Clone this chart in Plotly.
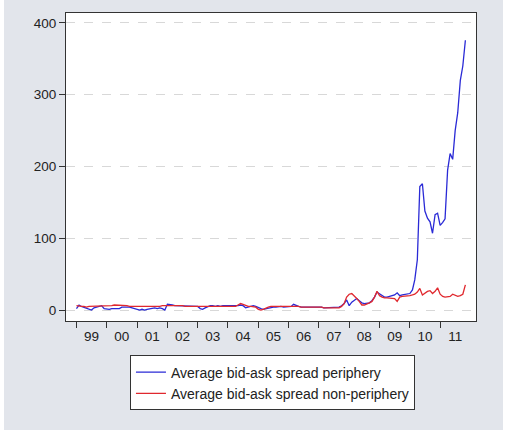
import pandas as pd
import plotly.graph_objects as go

dates = pd.date_range("1999-01-01", periods=155, freq="MS")

periphery = [
    2, 7, 5, 4, 3, 2, 0, 3, 4, 6, 6, 2,          # 1999
    1, 1, 2, 2, 1, 2, 4, 4, 5, 4, 3, 2,          # 2000
    1, 0, 1, 0, 1, 2, 3, 3, 2, 3, 2, 0,          # 2001
    8, 8, 7, 6, 6, 6, 6, 6, 5, 5, 6, 5,          # 2002
    5, 2, 1, 3, 5, 6, 6, 5, 6, 5, 6, 6,          # 2003
    6, 6, 5, 6, 6, 7, 6, 3, 4, 5, 6, 5,          # 2004
    4, 2, 1, 2, 3, 3, 4, 4, 5, 5, 4, 4,          # 2005
    4, 5, 8, 6, 5, 4, 4, 5, 4, 4, 4, 4,          # 2006
    4, 4, 3, 3, 3, 3, 3, 3, 4, 6, 9, 14,         # 2007
    6, 11, 14, 16, 13, 10, 9, 10, 10, 13, 18, 25,  # 2008
    23, 20, 18, 18, 19, 20, 21, 24, 20, 21, 22, 23,  # 2009
    23, 28, 42, 70, 172, 176, 138, 128, 123, 107, 133, 135,  # 2010
    118, 122, 127, 195, 218, 210, 250, 275, 320, 340, 376,  # 2011
]

non_periphery = [
    6, 5, 5, 5, 4, 5, 5, 5, 5, 6, 5, 5,          # 1999
    5, 5, 6, 7, 7, 7, 6, 6, 6, 5, 5, 5,          # 2000
    5, 4, 4, 4, 5, 5, 5, 5, 5, 5, 6, 6,          # 2001
    7, 6, 6, 6, 6, 6, 6, 5, 5, 5, 6, 6,          # 2002
    6, 6, 5, 5, 6, 6, 6, 6, 6, 6, 6, 6,          # 2003
    6, 6, 5, 5, 7, 9, 8, 6, 5, 5, 5, 4,          # 2004
    1, 0, 1, 3, 4, 5, 5, 5, 5, 5, 5, 5,          # 2005
    5, 5, 6, 5, 5, 4, 4, 4, 4, 4, 4, 5,          # 2006
    4, 4, 3, 3, 3, 2, 2, 3, 3, 5, 9, 18,         # 2007
    22, 23, 20, 16, 12, 7, 7, 8, 10, 12, 18, 26,  # 2008
    20, 18, 17, 17, 17, 17, 16, 12, 18, 19, 19, 19,  # 2009
    20, 21, 22, 25, 30, 21, 24, 26, 27, 23, 26, 31,  # 2010
    22, 19, 18, 18, 19, 22, 21, 19, 20, 22, 35,  # 2011
]

year_starts = pd.date_range("1999-01-01", "2011-01-01", freq="YS")
year_mids = [d + pd.Timedelta(days=182) for d in year_starts]
year_labels = ["99", "00", "01", "02", "03", "04", "05", "06", "07", "08", "09", "10", "11"]
y_ticks = [0, 100, 200, 300, 400]

x_range = ["1998-08-28", "2012-03-08"]

fig = go.Figure()
fig.add_trace(go.Scatter(x=dates, y=periphery, mode="lines",
                         name="Average bid-ask spread periphery",
                         line=dict(color="#2a2ad6", width=1.3)))
fig.add_trace(go.Scatter(x=dates, y=non_periphery, mode="lines",
                         name="Average bid-ask spread non-periphery",
                         line=dict(color="#e0282e", width=1.3)))

fig.update_layout(
    width=507, height=434,
    margin=dict(l=66, r=31, t=13, b=113),
    paper_bgcolor="#e2e5eb",
    plot_bgcolor="white",
    font=dict(family="Arial, Liberation Sans, sans-serif", size=13, color="#222"),
    xaxis=dict(
        type="date", range=x_range,
        tickmode="array", tickvals=year_mids, ticktext=year_labels,
        ticks="outside", ticklen=3, tickcolor="rgba(0,0,0,0)",
        tickfont=dict(size=13.5, color="#222"),
        minor=dict(tickmode="array", tickvals=year_starts, ticks="outside",
                   ticklen=6, tickcolor="#333", tickwidth=1, showgrid=False),
        showgrid=False, zeroline=False,
        showline=True, linecolor="#333", linewidth=1, mirror=True,
    ),
    yaxis=dict(
        range=[-15.3, 413.9],
        tickmode="array", tickvals=y_ticks,
        ticks="outside", ticklen=6, tickcolor="#333",
        showgrid=True, gridcolor="#d8d8d8", griddash="dash", gridwidth=1,
        zeroline=False,
        showline=True, linecolor="#333", linewidth=1, mirror=True,
        tickfont=dict(size=13.5, color="#222"),
    ),
    legend=dict(
        x=0.156, y=-0.112, xanchor="left", yanchor="top",
        bgcolor="white", bordercolor="#333", borderwidth=1,
        font=dict(size=14, color="#222"),
        tracegroupgap=0,
    ),
    showlegend=True,
    shapes=[
        dict(type="rect", xref="paper", yref="paper", x0=-0.17, x1=-0.1512, y0=-0.38, y1=1.05,
             fillcolor="white", line=dict(width=0), layer="above"),
        dict(type="rect", xref="paper", yref="paper", x0=1.0659, x1=1.08, y0=-0.38, y1=1.05,
             fillcolor="white", line=dict(width=0), layer="above"),
        dict(type="rect", xref="paper", yref="paper", x0=-0.17, x1=1.08, y0=-0.38, y1=-0.3539,
             fillcolor="white", line=dict(width=0), layer="above"),
    ],
)

fig.write_html("out.html")
